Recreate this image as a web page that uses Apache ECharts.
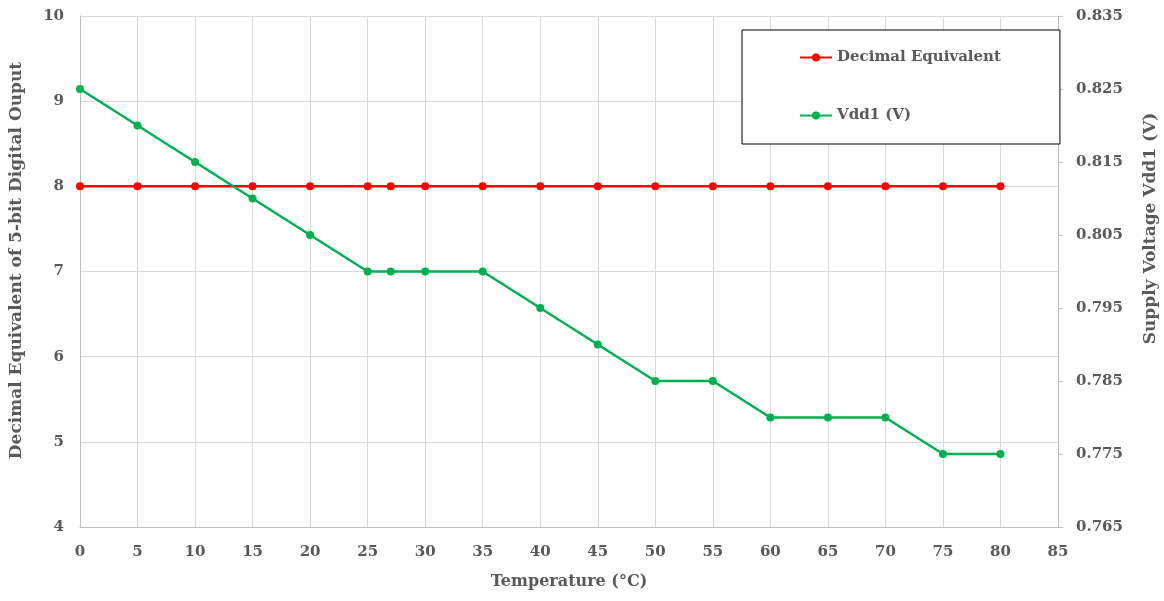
<!DOCTYPE html>
<html>
<head>
<meta charset="utf-8">
<script src="https://cdn.jsdelivr.net/npm/echarts@6/dist/echarts.min.js"></script>
<style>
  html, body { margin: 0; padding: 0; background: #fff; }
  #chart { width: 1164px; height: 601px; }
</style>
</head>
<body>
<div id="chart"></div>
<script>
// Temperature sweep (°C)
const temperatures = [0, 5, 10, 15, 20, 25, 27, 30, 35, 40, 45, 50, 55, 60, 65, 70, 75, 80];
// Decimal equivalent of the 5-bit digital output
const decimalEquivalent = [8, 8, 8, 8, 8, 8, 8, 8, 8, 8, 8, 8, 8, 8, 8, 8, 8, 8];
// Supply voltage Vdd1 (V)
const vdd1 = [0.825, 0.820, 0.815, 0.810, 0.805, 0.800, 0.800, 0.800, 0.800, 0.795, 0.790,
              0.785, 0.785, 0.780, 0.780, 0.780, 0.775, 0.775];

const FONT = '"Book Antiqua", "Palatino Linotype", "DejaVu Serif", serif';
const TEXT = '#595959';

const pairs = (xs, ys) => xs.map((x, i) => [x, ys[i]]);

const chart = echarts.init(document.getElementById('chart'), null, { renderer: 'canvas' });
chart.setOption({
  backgroundColor: '#ffffff',
  animation: false,
  textStyle: { fontFamily: FONT },
  grid: { left: 80, right: 106, top: 16, bottom: 74, containLabel: false, outerBoundsMode: 'none' },
  legend: {
    orient: 'vertical',
    left: 742,
    top: 30,
    padding: [20, 59, 21, 57],
    itemGap: 43,
    itemWidth: 32,
    itemHeight: 10,
    backgroundColor: '#ffffff',
    borderColor: '#000000',
    borderWidth: 1,
    borderRadius: 0,
    textStyle: { fontFamily: FONT, fontWeight: 'bold', fontSize: 15, color: TEXT },
    data: ['Decimal Equivalent', 'Vdd1 (V)']
  },
  xAxis: {
    type: 'value',
    min: 0, max: 85, interval: 5,
    name: 'Temperature (°C)',
    nameLocation: 'middle',
    nameGap: 47,
    nameTextStyle: { fontFamily: FONT, fontWeight: 'bold', fontSize: 16, color: TEXT },
    axisLine: { show: true, lineStyle: { color: '#bfbfbf', width: 1 } },
    axisTick: { show: false },
    axisLabel: { margin: 18, fontFamily: FONT, fontWeight: 'bold', fontSize: 15, color: TEXT },
    splitLine: { show: true, lineStyle: { color: '#d9d9d9', width: 1 } }
  },
  yAxis: [
    {
      type: 'value',
      position: 'left',
      min: 4, max: 10, interval: 1,
      name: 'Decimal Equivalent of 5-bit Digital Ouput',
      nameLocation: 'middle',
      nameRotate: 90,
      nameGap: 55,
      nameTextStyle: {
        fontFamily: FONT, fontWeight: 'bold', fontSize: 17, color: TEXT,
        padding: [0, 0, 0, 22]
      },
      axisLine: { show: true, lineStyle: { color: '#bfbfbf', width: 1 } },
      axisTick: { show: false },
      axisLabel: { margin: 16, fontFamily: FONT, fontWeight: 'bold', fontSize: 15, color: TEXT },
      splitLine: { show: true, lineStyle: { color: '#d9d9d9', width: 1 } }
    },
    {
      type: 'value',
      position: 'right',
      min: 0.765, max: 0.835, interval: 0.01,
      name: 'Supply Voltage Vdd1 (V)',
      nameLocation: 'middle',
      nameRotate: 90,
      nameGap: 84,
      nameTextStyle: {
        fontFamily: FONT, fontWeight: 'bold', fontSize: 17, color: TEXT,
        padding: [0, 0, 0, 86]
      },
      axisLine: { show: true, lineStyle: { color: '#bfbfbf', width: 1 } },
      axisTick: { show: true, length: 5, lineStyle: { color: '#bfbfbf' } },
      axisLabel: {
        margin: 18, fontFamily: FONT, fontWeight: 'bold', fontSize: 15, color: TEXT,
        formatter: v => v.toFixed(3)
      },
      splitLine: { show: false }
    }
  ],
  series: [
    {
      name: 'Decimal Equivalent',
      type: 'line',
      yAxisIndex: 0,
      data: pairs(temperatures, decimalEquivalent),
      symbol: 'circle',
      symbolSize: 8,
      itemStyle: { color: '#ff0000' },
      lineStyle: { color: '#ff0000', width: 2.5 },
      z: 3
    },
    {
      name: 'Vdd1 (V)',
      type: 'line',
      yAxisIndex: 1,
      data: pairs(temperatures, vdd1),
      symbol: 'circle',
      symbolSize: 8,
      itemStyle: { color: '#00b050' },
      lineStyle: { color: '#00b050', width: 2.5 },
      z: 4
    }
  ]
});
</script>
</body>
</html>
